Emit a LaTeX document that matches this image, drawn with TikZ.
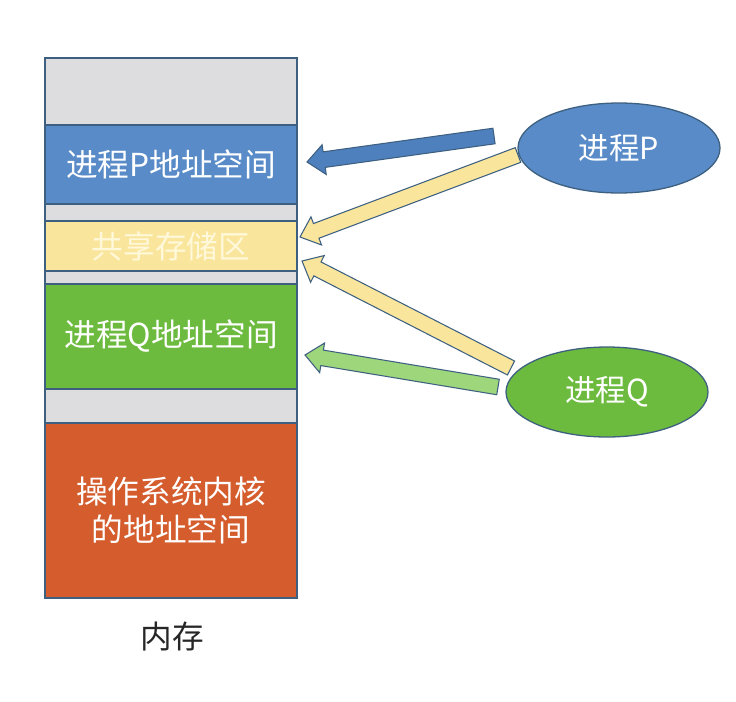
\documentclass[tikz,border=0pt]{standalone}
\usepackage{fontspec}
\newfontfamily\cjk{Noto Sans CJK SC}
\usepackage{xcolor}
\usetikzlibrary{positioning, shapes.geometric, calc}

\definecolor{edgeC}{RGB}{62,96,128}
\definecolor{memGray}{RGB}{221,221,223}
\definecolor{memBlue}{RGB}{88,139,199}
\definecolor{memYellow}{RGB}{249,230,156}
\definecolor{memGreen}{RGB}{108,187,62}
\definecolor{memOrange}{RGB}{212,92,45}
\definecolor{arrBlue}{RGB}{78,128,190}
\definecolor{arrGreen}{RGB}{158,214,124}
\definecolor{txtYellow}{RGB}{255,248,218}

\begin{document}
\begin{tikzpicture}[
    x=0.03cm, y=-0.03cm,
    every node/.style={font=\cjk\fontsize{27}{32}\selectfont},
    seg/.style={draw=edgeC, line width=1.1pt, minimum width=7.56cm,
      inner sep=0pt, outer sep=0pt, text=white, align=center},
    proc/.style={ellipse, draw=edgeC, line width=1.1pt, minimum width=6.06cm,
      minimum height=2.7cm, text=white, font=\cjk\fontsize{26}{30}\selectfont},
    barrow/.style={draw=edgeC, line width=0.9pt, line join=miter},
  ]
    \def\shaft{0.235cm}                     % 箭身半宽
    \def\head{0.45cm}                       % 箭头半宽
    \def\headlen{0.52cm}                    % 箭头长度
    % 块状箭头：#1 尾，#2 尖，#3 样式
    \def\blockarrow#1#2#3{
      \path ($(#2)!\headlen!(#1)$) coordinate (h);
      \draw[barrow, #3] ($(#1)!\shaft!90:(#2)$) -- ($(h)!\shaft!90:(#2)$)
        -- ($(h)!\head!90:(#2)$) -- (#2) -- ($(h)!\head!-90:(#2)$)
        -- ($(h)!\shaft!-90:(#2)$) -- ($(#1)!\shaft!-90:(#2)$) -- cycle;
    }

    % 画布
    \fill[white] (0, 0) rectangle (736, 701);

    % 内存各分区
    \node[seg, fill=memGray, minimum height=2.01cm, anchor=north west] (free1) at (45, 58) {};
    \node[seg, fill=memBlue, minimum height=2.37cm, below=0pt of free1] (spaceP) {进程P地址空间};
    \node[seg, fill=memGray, minimum height=0.51cm, below=0pt of spaceP] (free2) {};
    \node[seg, fill=memYellow, text=txtYellow, minimum height=1.50cm, below=0pt of free2] (shared) {共享存储区};
    \node[seg, fill=memGray, minimum height=0.39cm, below=0pt of shared] (free3) {};
    \node[seg, fill=memGreen, minimum height=3.15cm, below=0pt of free3] (spaceQ) {进程Q地址空间};
    \node[seg, fill=memGray, minimum height=1.02cm, below=0pt of spaceQ] (free4) {};
    \node[seg, fill=memOrange, minimum height=5.25cm, below=0pt of free4] (kernel) {操作系统内核\\的地址空间};

    % 下方标注
    \node[text=black!85] (memLbl) at (172, 637) {内存};

    % 箭头两端
    \coordinate (tailPb) at (494, 136);
    \coordinate (tipPb)  at (307, 162);
    \coordinate (tailPy) at (518, 155);
    \coordinate (tipPy)  at (300, 237);
    \coordinate (tailQy) at (511, 368);
    \coordinate (tipQy)  at (302, 261);
    \coordinate (tailQg) at (498, 387);
    \coordinate (tipQg)  at (305, 355);

    % 箭头
    \blockarrow{tailPb}{tipPb}{fill=arrBlue}
    \blockarrow{tailQg}{tipQg}{fill=arrGreen}
    \blockarrow{tailPy}{tipPy}{fill=memYellow}
    \blockarrow{tailQy}{tipQy}{fill=memYellow}

    % 两个进程
    \node[proc, fill=memBlue] (procP) at (619, 148) {进程P};
    \node[proc, fill=memGreen] (procQ) at (607, 392) {进程Q};
  \end{tikzpicture}
\end{document}
